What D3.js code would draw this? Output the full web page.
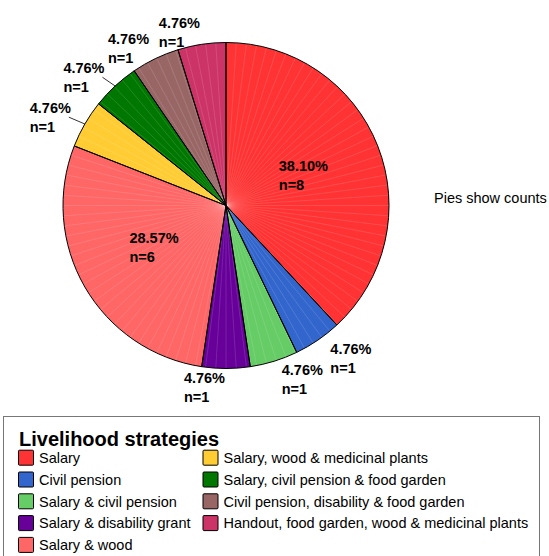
<!DOCTYPE html>
<html>
<head>
<meta charset="utf-8">
<script src="https://cdn.jsdelivr.net/npm/d3@7"></script>
<style>
  html, body { margin: 0; padding: 0; background: #fff; }
  svg text { font-family: "Liberation Sans", Arial, sans-serif; fill: #000; }
</style>
</head>
<body>
<svg id="chart" width="549" height="556"></svg>
<script>
// Livelihood strategies and household counts
const categories = [
  "Salary",
  "Civil pension",
  "Salary & civil pension",
  "Salary & disability grant",
  "Salary & wood",
  "Salary, wood & medicinal plants",
  "Salary, civil pension & food garden",
  "Civil pension, disability & food garden",
  "Handout, food garden, wood & medicinal plants"
];
const counts = [8, 1, 1, 1, 6, 1, 1, 1, 1];
const colors = [
  "#ff3333", "#3366cc", "#66cc66", "#660099", "#ff6666",
  "#ffcc33", "#007700", "#996666", "#cc3366"
];
const legendTitle = "Livelihood strategies";
const noteText = "Pies show counts";

const svg = d3.select("#chart");
const cx = 226, cy = 205.5, radius = 163;
const fontSize = 14.5;
const lineGap = 19;
const capH = fontSize * 0.716;

const total = d3.sum(counts);
const pct = d3.format(".2f");
const data = categories.map((c, i) => ({ name: c, count: counts[i], color: colors[i] }));

const pie = d3.pie().value(d => d.count).sort(null);
const arcs = pie(data);
const arc = d3.arc().innerRadius(0).outerRadius(radius);
const labelArc = d3.arc().innerRadius(0).outerRadius(radius * 1.02);

const g = svg.append("g").attr("transform", `translate(${cx},${cy})`);

// slice fills
g.selectAll("path.fill").data(arcs).join("path")
  .attr("class", "fill")
  .attr("d", arc)
  .attr("fill", d => d.data.color);

// faint radial seams across the fills
const seamAngles = d3.range(0, 360, 3.6).map(a => a * Math.PI / 180);
g.selectAll("line.seam").data(seamAngles).join("line")
  .attr("class", "seam")
  .attr("x1", 0).attr("y1", 0)
  .attr("x2", a => Math.sin(a) * radius)
  .attr("y2", a => -Math.cos(a) * radius)
  .attr("stroke", "#fff")
  .attr("stroke-opacity", 0.22)
  .attr("stroke-width", 0.6);

// slice outlines
g.selectAll("path.edge").data(arcs).join("path")
  .attr("class", "edge")
  .attr("d", arc)
  .attr("fill", "none")
  .attr("stroke", "#000")
  .attr("stroke-width", 1)
  .attr("stroke-linejoin", "round");

// labels
const labelsG = g.append("g");
const textWidth = (str) => {
  const t = labelsG.append("text").attr("font-size", fontSize).attr("font-weight", "bold").text(str);
  const w = t.node().getComputedTextLength();
  t.remove();
  return w;
};

arcs.forEach(d => {
  const frac = d.data.count / total;
  const lines = [pct(frac * 100) + "%", "n=" + d.data.count];
  const w = d3.max(lines, textWidth);
  const mid = (d.startAngle + d.endAngle) / 2;
  const t = labelsG.append("text").attr("font-size", fontSize).attr("font-weight", "bold");

  if (frac > 0.1) {
    // inside: block centred on the slice centroid
    const [x, y] = labelArc.centroid(d);
    const b1 = y - 4.1;
    lines.forEach((s, i) => t.append("tspan").attr("x", x - w / 2).attr("y", b1 + i * lineGap).text(s));
    return;
  }

  // outside: block sits just beyond the rim, drifting sideways as the slice nears horizontal
  const sin = Math.sin(mid), cos = Math.cos(mid);
  const R = radius + 5;
  const px = R * sin, py = -R * cos;
  const drift = 13 * Math.max(0, Math.abs(sin) - 0.2);
  const right = sin > 0.01;
  const x0 = right ? px + 5 + drift : px - 1 - drift - w;
  const capTop = cos < 0
    ? py - 1
    : py + 8 - lineGap - capH + 4 * Math.max(0, Math.abs(sin) - 0.2);

  if (drift > 5) {
    const ax = radius * sin, ay = -radius * cos;
    const lx = right ? x0 + 2 : x0 + w - 2;
    const ly = capTop + capH + 4;
    labelsG.append("line")
      .attr("x1", ax).attr("y1", ay).attr("x2", lx).attr("y2", ly)
      .attr("stroke", "#000").attr("stroke-width", 0.8);
  }
  lines.forEach((s, i) =>
    t.append("tspan").attr("x", x0).attr("y", capTop + capH + i * lineGap).text(s));
});

// note at right
svg.append("text")
  .attr("x", 434).attr("y", 203)
  .attr("font-size", fontSize)
  .text(noteText);

// legend
const legend = svg.append("g");
legend.append("rect")
  .attr("x", 3.5).attr("y", 416.5)
  .attr("width", 536).attr("height", 160)
  .attr("fill", "#fff").attr("stroke", "#777").attr("stroke-width", 1);
legend.append("text")
  .attr("x", 19).attr("y", 446)
  .attr("font-size", 20).attr("font-weight", "bold")
  .text(legendTitle);

const perCol = 5;
const colX = [18, 202.5];
const rowStep = 21.8, row0 = 457.7;
const items = legend.selectAll("g.item").data(data).join("g")
  .attr("class", "item")
  .attr("transform", (d, i) => `translate(${colX[Math.floor(i / perCol)]},${row0 + (i % perCol) * rowStep})`);
items.append("rect")
  .attr("x", 0.5).attr("y", -7.5)
  .attr("width", 15).attr("height", 15)
  .attr("rx", 1)
  .attr("fill", d => d.color)
  .attr("stroke", "#000").attr("stroke-width", 1);
items.append("text")
  .attr("x", 21).attr("y", 5.2)
  .attr("font-size", fontSize)
  .text(d => d.name);
</script>
</body>
</html>
